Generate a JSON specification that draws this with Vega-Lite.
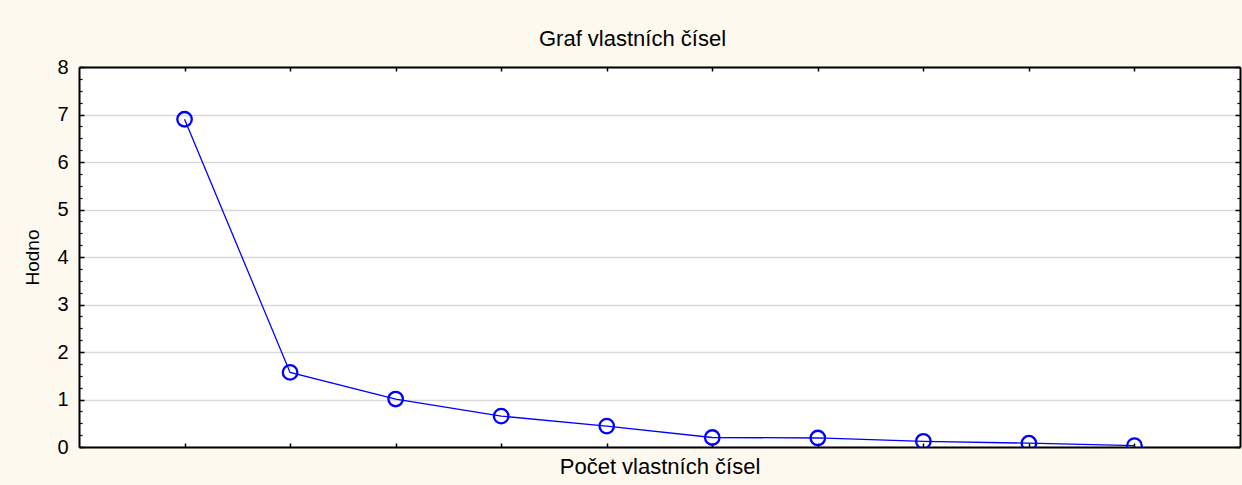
{
  "$schema": "https://vega.github.io/schema/vega-lite/v6.json",
  "autosize": "none",
  "width": 1161,
  "height": 380,
  "padding": {"left": 79, "top": 67, "right": 2, "bottom": 38},
  "background": "#fdf9ef",
  "config": {
    "font": "Liberation Sans",
    "view": {"stroke": null, "fill": "#ffffff"},
    "axis": {"labelFont": "Liberation Sans", "titleFont": "Liberation Sans", "labelColor": "#000000", "titleColor": "#000000", "domainColor": "#000000", "tickColor": "#000000", "titleFontWeight": "normal"}
  },
  "title": {"text": "Graf vlastních čísel", "fontSize": 22, "fontWeight": "normal", "font": "Liberation Sans", "color": "#000000", "offset": 6, "dx": -27},
  "data": {"values": [
    {"n": 1, "v": 6.90},
    {"n": 2, "v": 1.57},
    {"n": 3, "v": 1.01},
    {"n": 4, "v": 0.65},
    {"n": 5, "v": 0.44},
    {"n": 6, "v": 0.20},
    {"n": 7, "v": 0.19},
    {"n": 8, "v": 0.12},
    {"n": 9, "v": 0.08},
    {"n": 10, "v": 0.03}
  ]},
  "resolve": {"axis": {"x": "independent", "y": "independent"}},
  "layer": [
    {
      "mark": {"type": "line", "color": "#0000ff", "strokeWidth": 1.3, "clip": true},
      "encoding": {
        "x": {"field": "n", "type": "quantitative", "scale": {"domain": [0, 11], "nice": false, "zero": false},
          "axis": {"orient": "bottom", "values": [1,2,3,4,5,6,7,8,9,10], "labels": false, "grid": false, "tickSize": -4, "tickWidth": 1.5, "domainWidth": 2, "title": "Počet vlastních čísel", "titleFontSize": 22, "titlePadding": 9}},
        "y": {"field": "v", "type": "quantitative", "scale": {"domain": [0, 8], "nice": false},
          "axis": {"orient": "left", "values": [0,1,2,3,4,5,6,7,8], "grid": true, "gridColor": "#d9d9d9", "gridWidth": 1.5, "tickSize": -5, "tickWidth": 1.5, "domainWidth": 2, "labelFontSize": 20, "labelPadding": 16, "title": "Hodno", "titleFontSize": 19, "titlePadding": 14}}
      }
    },
    {
      "mark": {"type": "point", "shape": "circle", "filled": false, "color": "#0000ff", "size": 210, "strokeWidth": 2.3, "opacity": 1, "clip": true},
      "encoding": {
        "x": {"field": "n", "type": "quantitative",
          "axis": {"orient": "top", "values": [1,2,3,4,5,6,7,8,9,10], "labels": false, "grid": false, "tickSize": -4, "tickWidth": 1.5, "domainWidth": 2, "title": null}},
        "y": {"field": "v", "type": "quantitative",
          "axis": {"orient": "left", "values": [0.25,0.5,0.75,1.25,1.5,1.75,2.25,2.5,2.75,3.25,3.5,3.75,4.25,4.5,4.75,5.25,5.5,5.75,6.25,6.5,6.75,7.25,7.5,7.75], "labels": false, "grid": false, "tickSize": -3, "tickWidth": 1.2, "domain": false, "title": null}}
      }
    },
    {
      "mark": {"type": "point", "opacity": 0},
      "encoding": {
        "x": {"field": "n", "type": "quantitative", "axis": null},
        "y": {"field": "v", "type": "quantitative",
          "axis": {"orient": "right", "values": [0,1,2,3,4,5,6,7,8], "labels": false, "grid": false, "tickSize": -5, "tickWidth": 1.5, "domainWidth": 2, "title": null}}
      }
    },
    {
      "mark": {"type": "point", "opacity": 0},
      "encoding": {
        "x": {"field": "n", "type": "quantitative", "axis": null},
        "y": {"field": "v", "type": "quantitative",
          "axis": {"orient": "right", "values": [0.25,0.5,0.75,1.25,1.5,1.75,2.25,2.5,2.75,3.25,3.5,3.75,4.25,4.5,4.75,5.25,5.5,5.75,6.25,6.5,6.75,7.25,7.5,7.75], "labels": false, "grid": false, "tickSize": -3, "tickWidth": 1.2, "domain": false, "title": null}}
      }
    }
  ]
}
